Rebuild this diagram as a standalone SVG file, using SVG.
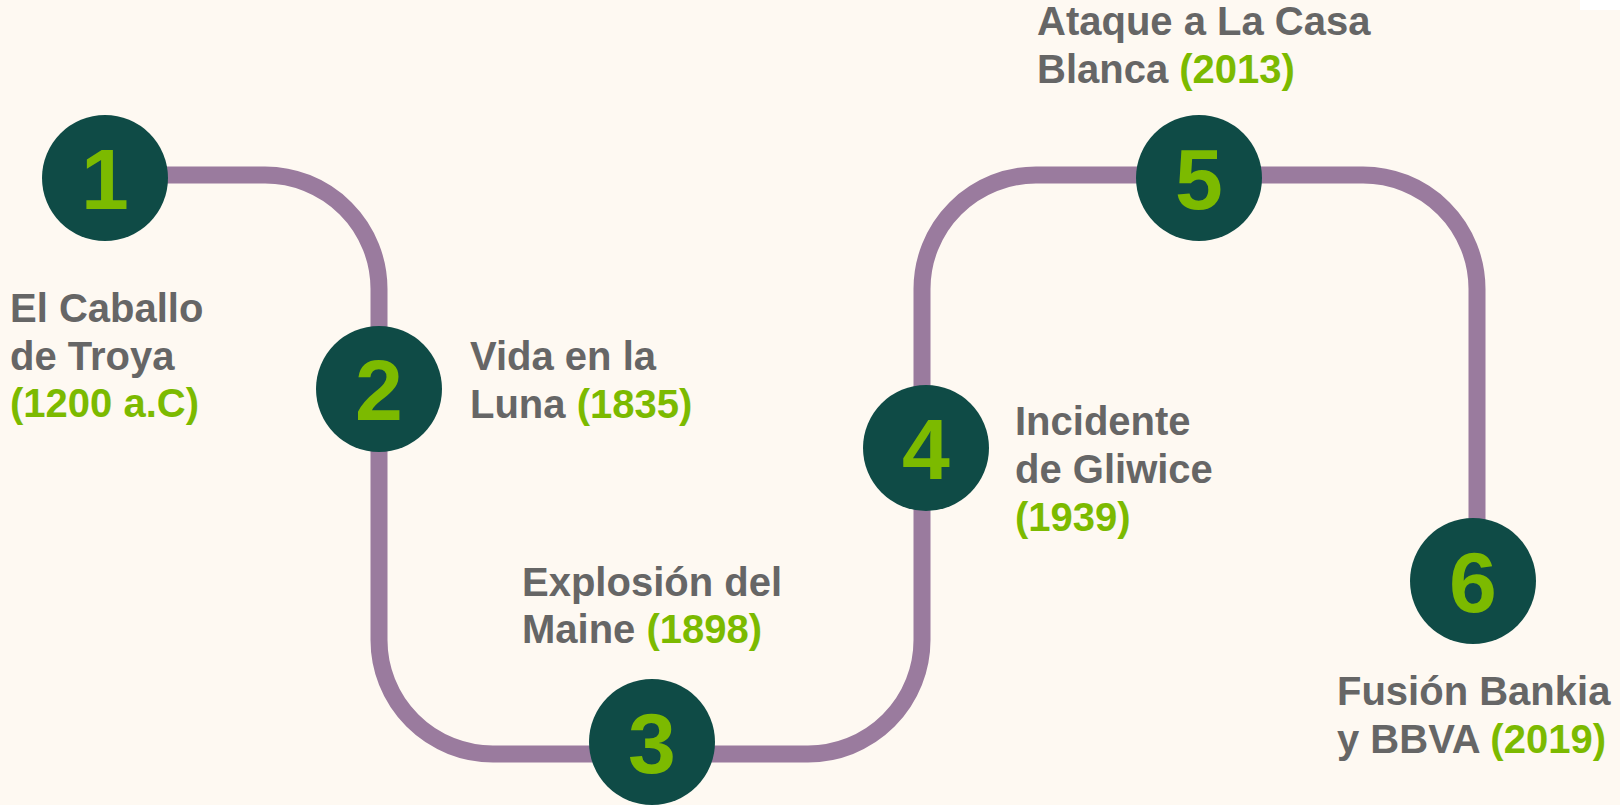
<svg xmlns="http://www.w3.org/2000/svg" width="1620" height="805" viewBox="0 0 1620 805">
<style>
.bg{fill:#fef9f2}
.track{fill:none;stroke:#9a7b9e;stroke-width:17}
.dot{fill:#0f4b46}
.num{font-family:"Liberation Sans",Arial,sans-serif;font-weight:bold;font-size:86px;fill:#7cba00;text-anchor:middle}
.lbl{font-family:"Liberation Sans",Arial,sans-serif;font-weight:bold;font-size:40px;fill:#666666}
.yr{fill:#7cba00}
</style>
<rect class="bg" x="0" y="0" width="1620" height="805"/>
<rect x="1580" y="0" width="40" height="10" fill="#ffffff"/>
<g id="connectors">
<path class="track" d="M105,175 H265 A114,114 0 0 1 379,289 V640 A114,114 0 0 0 493,754 H808 A114,114 0 0 0 922,640 V289 A114,114 0 0 1 1036,175 H1363 A114,114 0 0 1 1477,289 V581"/>
</g>
<g id="node1">
<circle class="dot" cx="105" cy="178" r="63"/>
<text class="num" x="105" y="209">1</text>
<text class="lbl" x="10" y="322">El Caballo</text>
<text class="lbl" x="10" y="370">de Troya</text>
<text class="lbl yr" x="10" y="417">(1200 a.C)</text>
</g>
<g id="node2">
<circle class="dot" cx="379" cy="389" r="63"/>
<text class="num" x="379" y="420">2</text>
<text class="lbl" x="470" y="370">Vida en la</text>
<text class="lbl" x="470" y="418">Luna <tspan class="yr">(1835)</tspan></text>
</g>
<g id="node3">
<circle class="dot" cx="652" cy="742" r="63"/>
<text class="num" x="652" y="773">3</text>
<text class="lbl" x="522" y="596">Explosión del</text>
<text class="lbl" x="522" y="643">Maine <tspan class="yr">(1898)</tspan></text>
</g>
<g id="node4">
<circle class="dot" cx="926" cy="448" r="63"/>
<text class="num" x="926" y="479">4</text>
<text class="lbl" x="1015" y="435">Incidente</text>
<text class="lbl" x="1015" y="483">de Gliwice</text>
<text class="lbl yr" x="1015" y="531">(1939)</text>
</g>
<g id="node5">
<circle class="dot" cx="1199" cy="178" r="63"/>
<text class="num" x="1199" y="209">5</text>
<text class="lbl" x="1037" y="35">Ataque a La Casa</text>
<text class="lbl" x="1037" y="83">Blanca <tspan class="yr">(2013)</tspan></text>
</g>
<g id="node6">
<circle class="dot" cx="1473" cy="581" r="63"/>
<text class="num" x="1473" y="612">6</text>
<text class="lbl" x="1337" y="705">Fusión Bankia</text>
<text class="lbl" x="1337" y="753">y BBVA <tspan class="yr">(2019)</tspan></text>
</g>
</svg>
